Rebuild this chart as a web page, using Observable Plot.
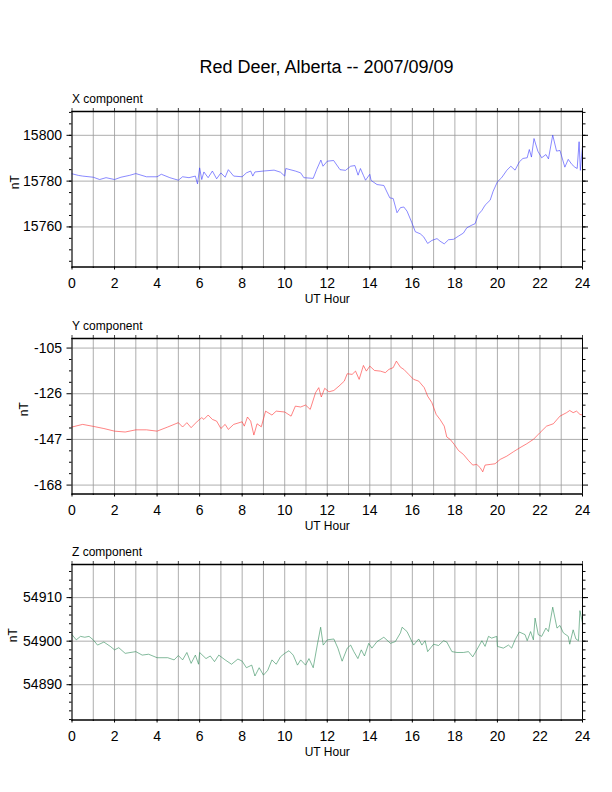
<!DOCTYPE html>
<html>
<head>
<meta charset="utf-8">
<script src="https://cdn.jsdelivr.net/npm/d3@7"></script>
<script src="https://cdn.jsdelivr.net/npm/@observablehq/plot@0.6"></script>
<style>
  html, body { margin: 0; padding: 0; background: #fff; }
  #page { position: relative; width: 612px; height: 792px; font-family: "Liberation Sans", Arial, Helvetica, sans-serif; }
  #title { position: absolute; left: 0; width: 653px; top: 57px; text-align: center; font-size: 18px; color: #000; }
  .panel { position: absolute; left: 0; }
</style>
</head>
<body>
<div id="page">
  <div id="title">Red Deer, Alberta -- 2007/09/09</div>
</div>
<script>
// ---- data ----
const hourTicks = [0, 2, 4, 6, 8, 10, 12, 14, 16, 18, 20, 22, 24];
const hourGrid = d3.range(0, 25, 1);

const xHours = [0,0.3,0.5,1,1.3,1.6,2,2.3,2.7,3,3.5,4,4.2,4.6,5,5.2,5.5,5.8,5.9,6,6.1,6.2,6.4,6.6,6.8,7,7.2,7.35,7.6,8,8.2,8.4,8.5,8.6,9,9.5,9.8,10,10.05,10.5,10.75,10.9,11.34,11.5,11.7,11.8,12,12.3,12.6,12.86,13.1,13.3,13.45,13.56,13.7,13.8,14,14.06,14.34,14.66,14.94,15.1,15.28,15.44,15.6,15.75,15.98,16.14,16.37,16.53,16.72,16.92,17.16,17.3,17.5,17.7,17.94,18.17,18.4,18.56,18.8,18.95,19.1,19.27,19.42,19.66,19.8,20,20.2,20.44,20.63,20.83,21.03,21.2,21.4,21.5,21.6,21.72,21.9,22.08,22.28,22.4,22.6,22.78,22.94,23.17,23.33,23.5,23.64,23.75,23.84,23.9,24];
const xValues = [15783.2,15782.5,15782.2,15781.7,15780.7,15781.5,15780.7,15781.7,15782.5,15783.3,15781.9,15781.9,15783,15781.5,15780.4,15781.9,15781.5,15782.2,15778.8,15785.8,15780.7,15784,15781.5,15784.4,15781,15783.6,15781.7,15785,15782.2,15781.9,15783.6,15784.4,15782.2,15784,15784.4,15784.8,15783.9,15782.2,15785.5,15784.4,15783.6,15781.5,15781.2,15785,15789.2,15786.5,15788.7,15789,15785,15784.7,15786.5,15786.8,15782.6,15785.5,15782.5,15780.4,15783,15780.3,15778.5,15778.1,15772.7,15772.4,15766.2,15768.4,15768.7,15766.9,15761.8,15757.9,15757,15755.7,15752.8,15754.1,15754.9,15753.8,15752.6,15754.4,15754.6,15756,15757.3,15759.6,15760.8,15761.4,15765.4,15767.2,15769.5,15771.7,15775.6,15779.7,15781.5,15784.7,15786.5,15784.8,15788.4,15789.9,15790.2,15793.8,15790.5,15798.6,15793.1,15790.2,15791.6,15789.7,15800.1,15793.1,15793.4,15786.1,15789.5,15787.3,15786.1,15785.5,15797.2,15784.7,15795.3];
const xMajor = [15760, 15780, 15800];
const xMinor = d3.range(15745, 15811, 5);

const yHours = [0,0.5,1,1.5,2,2.5,3,3.5,4,4.5,5,5.2,5.4,5.6,5.9,6.1,6.2,6.4,6.6,6.8,7,7.2,7.35,7.6,8,8.1,8.25,8.4,8.55,8.7,8.9,9.1,9.4,9.6,10,10.3,10.5,10.75,10.98,11.2,11.45,11.6,11.72,11.88,12.08,12.31,12.55,12.8,12.94,13.17,13.33,13.5,13.7,13.84,14,14.22,14.5,14.73,14.9,15.1,15.25,15.44,15.6,15.83,16.06,16.3,16.56,16.72,16.92,17.12,17.3,17.5,17.62,17.78,17.97,18.17,18.4,18.64,18.84,19.03,19.19,19.31,19.42,19.66,19.89,20.13,20.44,20.75,21.06,21.38,21.69,22,22.31,22.63,22.94,23.25,23.4,23.56,23.72,23.88,24];
const yValues = [-141.3,-140.1,-141,-142,-143.2,-143.6,-142.6,-142.6,-143.2,-141.3,-139.3,-141.3,-139.3,-141.6,-138.6,-137,-137.8,-135.8,-137.8,-138.6,-142,-140.1,-142.4,-140.1,-138.9,-140.9,-136.7,-138.6,-145,-139.8,-141.2,-134,-135.8,-134,-134.4,-136.3,-131.7,-132.1,-131.2,-133.2,-125.5,-123.2,-127.5,-123.5,-125.1,-124.5,-122.5,-120.2,-116.8,-117.1,-115.6,-119.4,-113,-115.6,-113.3,-115.3,-115.6,-116.3,-114.8,-114,-111,-113.8,-114.8,-117.1,-119.4,-120.2,-123.2,-127.1,-130.1,-135.5,-137.8,-140.9,-145.9,-147,-149.3,-152.1,-153.9,-156.7,-158.8,-158.5,-160,-161.9,-158.8,-158.5,-158.2,-156.2,-154.7,-152.7,-150.8,-149,-147,-143.9,-140.9,-139.8,-136.3,-134.7,-133.7,-134.7,-134,-135.5,-135.8];
const yMajor = [-168, -147, -126, -105];
const yMinor = [-162.75,-157.5,-152.25,-141.75,-136.5,-131.25,-120.75,-115.5,-110.25];

const zHours = [0,0.2,0.4,0.6,0.8,1,1.2,1.5,1.8,2,2.2,2.5,3,3.3,3.6,4,4.5,4.8,5,5.2,5.4,5.6,5.8,5.95,6,6.3,6.5,6.7,6.9,7.2,7.5,7.8,8,8.2,8.45,8.6,8.8,9,9.2,9.4,9.6,9.8,10,10.2,10.4,10.6,10.75,10.98,11.14,11.34,11.53,11.69,11.81,12,12.31,12.5,12.7,12.94,13.1,13.25,13.44,13.6,13.75,13.95,14.1,14.34,14.66,14.97,15.2,15.44,15.52,15.75,16.06,16.3,16.45,16.6,16.72,17,17.23,17.47,17.62,17.86,18.1,18.4,18.64,18.84,19.03,19.27,19.42,19.58,19.73,19.97,20,20.28,20.52,20.67,20.83,21.03,21.3,21.4,21.56,21.69,21.77,21.92,22.08,22.28,22.4,22.6,22.8,22.94,23.1,23.33,23.4,23.56,23.69,23.81,23.88,24];
const zValues = [54901.5,54900.3,54901.1,54900.9,54901.1,54900.3,54899.1,54899.8,54898.8,54898,54898.5,54897.2,54897.6,54896.8,54897,54896.2,54896.2,54895.7,54896.7,54895.7,54897.4,54894.9,54896.8,54894.7,54897.4,54896,54896.6,54895.3,54896.8,54895.7,54894.7,54895.9,54895.4,54893.9,54894.5,54892,54893.9,54892.2,54893.3,54895.7,54894.7,54896.4,54897.2,54897.8,54896.8,54894.5,54895.7,54894.5,54896,54893.9,54899.1,54903.2,54899.1,54900.3,54900.5,54898.4,54895.4,54898.4,54899.1,54897.6,54896,54898,54896.6,54899.5,54898.4,54899.9,54900.9,54899.5,54899.9,54901.9,54903.2,54902.2,54899.1,54900.5,54899.1,54900.1,54897.6,54899.3,54899,54900.1,54899.8,54897.6,54897.4,54897.4,54897.6,54896.4,54898,54900.1,54898.8,54901.1,54900.7,54901.1,54898.8,54898.4,54899.1,54898.4,54900.3,54902.1,54901.5,54900.1,54902.2,54900.3,54905.3,54901.5,54901.1,54903,54902.2,54907.8,54903,54903.6,54901.9,54901.1,54899.3,54902.6,54900.5,54900.1,54907,54904.2];
const zMajor = [54890, 54900, 54910];
const zMinor = d3.range(54882, 54917, 2);

const panels = [
  {name: "X component", hours: xHours, values: xValues, domain: [15742.5, 15810.4], major: xMajor, minor: xMinor, color: "#3a3aff", top: 80.7, nTdx: -56.5},
  {name: "Y component", hours: yHours, values: yValues, domain: [-172.1, -100.6], major: yMajor, minor: yMinor, color: "#ff3030", top: 307.7, nTdx: -47.5},
  {name: "Z component", hours: zHours, values: zValues, domain: [54881.9, 54917.6], major: zMajor, minor: zMinor, color: "#2e8b57", top: 534.3, nTdx: -58.5}
];

const page = document.getElementById("page");
const font = "'Liberation Sans', Arial, Helvetica, sans-serif";

for (const p of panels) {
  const data = p.hours.map((h, i) => ({h, v: p.values[i]}));
  const chart = Plot.plot({
    width: 612,
    height: 229.5,
    marginTop: 30,
    marginBottom: 44,
    marginLeft: 71.5,
    marginRight: 30,
    style: {fontFamily: font, fontSize: "14px", background: "transparent", overflow: "visible"},
    x: {domain: [0, 24]},
    y: {domain: p.domain},
    marks: [
      Plot.gridX(hourGrid, {stroke: "#999", strokeOpacity: 1, strokeWidth: 0.8}),
      Plot.gridY(p.major, {stroke: "#999", strokeOpacity: 1, strokeWidth: 0.8}),
      Plot.line(data, {x: "h", y: "v", stroke: p.color, strokeWidth: 0.7, strokeOpacity: 0.85}),
      Plot.axisY(p.major, {anchor: "left", tickSize: 5, tickPadding: 5, label: null, fontSize: 14, tickFormat: d => String(d)}),
      Plot.axisY(p.minor, {anchor: "left", tickSize: 2.5, label: null, tickFormat: () => ""}),
      Plot.axisY(p.major, {anchor: "right", tickSize: 5, label: null, tickFormat: () => ""}),
      Plot.axisY(p.minor, {anchor: "right", tickSize: 2.5, label: null, tickFormat: () => ""}),
      Plot.axisX(hourTicks, {anchor: "bottom", tickSize: 3, tickPadding: 8, label: null, fontSize: 14, tickFormat: d => String(d)}),
      Plot.axisX(hourGrid, {anchor: "bottom", tickSize: 1.5, label: null, tickFormat: () => ""}),
      Plot.axisX(hourGrid, {anchor: "top", tickSize: 4, label: null, stroke: "#444", tickFormat: () => ""}),
      Plot.ruleY([p.domain[0], p.domain[1]], {stroke: "#000", strokeWidth: 1.6}),
      Plot.ruleX([0, 24], {stroke: "#000", strokeWidth: 1}),
      Plot.text([p.name], {frameAnchor: "top-left", textAnchor: "start", lineAnchor: "bottom", dy: -9, fontSize: 12, fill: "#000"}),
      Plot.text(["nT"], {frameAnchor: "left", dx: p.nTdx, rotate: -90, fontSize: 12, fill: "#000"}),
      Plot.text(["UT Hour"], {frameAnchor: "bottom", lineAnchor: "bottom", dy: 36, fontSize: 12, fill: "#000"})
    ]
  });
  chart.classList.add("panel");
  chart.style.top = p.top + "px";
  chart.style.position = "absolute";
  chart.style.left = "0px";
  page.appendChild(chart);
}
</script>
</body>
</html>
